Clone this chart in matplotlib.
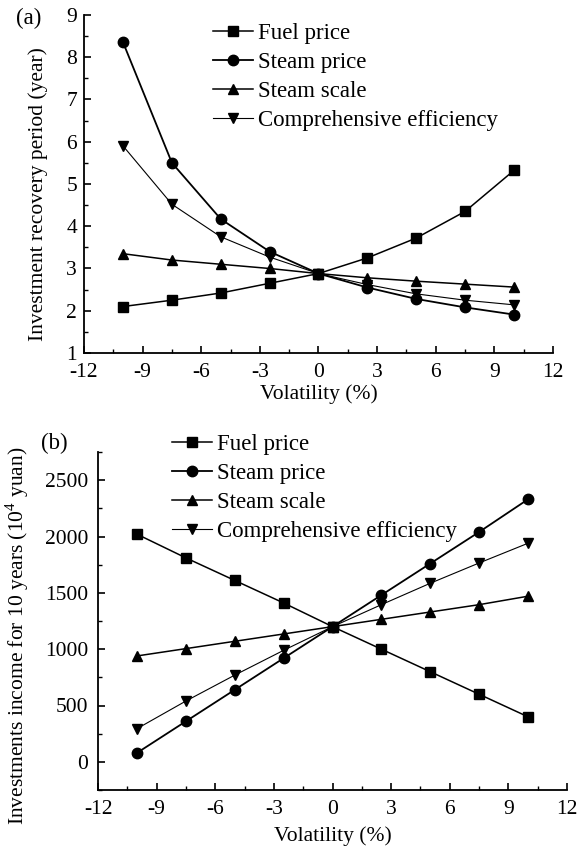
import matplotlib
matplotlib.use("Agg")
import matplotlib.pyplot as plt
from matplotlib.ticker import MultipleLocator

plt.rcParams['font.family'] = ['Liberation Serif', 'DejaVu Serif']
plt.rcParams['mathtext.fontset'] = 'custom'
plt.rcParams['mathtext.rm'] = 'Liberation Serif'

volatility = [-10, -7.5, -5, -2.5, 0, 2.5, 5, 7.5, 10]
series_names = ["Fuel price", "Steam price", "Steam scale", "Comprehensive efficiency"]

# Panel (a): investment recovery period (year)
a_fuel = [2.1, 2.25, 2.42, 2.65, 2.88, 3.25, 3.72, 4.35, 5.32]
a_steam_price = [8.35, 5.5, 4.17, 3.4, 2.88, 2.55, 2.28, 2.08, 1.91]
a_steam_scale = [3.35, 3.2, 3.1, 3.0, 2.88, 2.78, 2.7, 2.63, 2.56]
a_comp = [5.9, 4.52, 3.75, 3.27, 2.88, 2.62, 2.4, 2.25, 2.14]

# Panel (b): investments income for 10 years (10^4 yuan)
b_fuel = [2020, 1810, 1610, 1410, 1200, 1000, 800, 600, 400]
b_steam_price = [80, 360, 640, 920, 1200, 1480, 1760, 2040, 2330]
b_steam_scale = [940, 1005, 1070, 1135, 1200, 1265, 1330, 1395, 1470]
b_comp = [295, 540, 770, 990, 1200, 1395, 1585, 1765, 1940]

x_ticks = [-12, -9, -6, -3, 0, 3, 6, 9, 12]
x_ticklabels = ['-12', '-9', '-6', '-3', '0', '3', '6', '9', '12']
b_yticks = [0, 500, 1000, 1500, 2000, 2500]

markers = ['s', 'o', '^', 'v']
msizes = [6.5, 7.5, 7.5, 7.5]
lws = [1.1, 1.3, 1.1, 0.8]

FS = 15.5

fig = plt.figure(figsize=(5.78, 8.5), dpi=100)
ax1 = fig.add_axes([0.1453, 0.5847, 0.8114, 0.3977])
ax2 = fig.add_axes([0.1696, 0.0706, 0.8114, 0.3976])

def style(ax, ypad):
    for s in ['top', 'right']:
        ax.spines[s].set_visible(False)
    for s in ['left', 'bottom']:
        ax.spines[s].set_linewidth(1.3)
    ax.tick_params(which='major', direction='in', length=5, width=1.2, labelsize=FS)
    ax.tick_params(axis='x', which='major', pad=7.5)
    ax.tick_params(axis='y', which='major', pad=ypad)
    ax.tick_params(which='minor', direction='in', length=3, width=1.0)
    ax.set_xlim(-12, 12)
    ax.xaxis.set_minor_locator(MultipleLocator(1.5))
    ax.set_xticks(x_ticks)
    ax.set_xticklabels(x_ticklabels)

for ax, data, ypad in [(ax1, [a_fuel, a_steam_price, a_steam_scale, a_comp], 5),
                       (ax2, [b_fuel, b_steam_price, b_steam_scale, b_comp], 7)]:
    for name, vals, m, ms, lw in zip(series_names, data, markers, msizes, lws):
        ax.plot(volatility, vals, color='black', marker=m, markersize=ms, lw=lw, label=name)
    style(ax, ypad)

ax1.set_xlabel("Volatility (%)", fontsize=FS, labelpad=1)
ax2.set_xlabel("Volatility (%)", fontsize=FS, labelpad=5)

ax1.set_ylim(1, 9)
ax1.yaxis.set_major_locator(MultipleLocator(1))
ax1.yaxis.set_minor_locator(MultipleLocator(0.5))
ax1.set_ylabel("Investment recovery period (year)", fontsize=FS)
ax1.yaxis.set_label_coords((48 - 84) / 469, (353 - 194) / 338)

ax2.set_ylim(-250, 2750)
ax2.set_yticks(b_yticks)
ax2.yaxis.set_minor_locator(MultipleLocator(250))
ax2.set_ylabel("Investments income for 10 years (10$^4$ yuan)", fontsize=FS)
ax2.yaxis.set_label_coords((31 - 98) / 469, (790 - 636) / 338)

leg_kw = dict(frameon=False, fontsize=16.5, handlelength=1.75, handletextpad=0.22,
              labelspacing=0.345, borderpad=0, borderaxespad=0, loc='upper left')
ax1.legend(bbox_to_anchor=(213/578, 1 - 23/850), bbox_transform=fig.transFigure, **leg_kw)
ax2.legend(bbox_to_anchor=(172/578, 1 - 434/850), bbox_transform=fig.transFigure, **leg_kw)

fig.text(16/578, 1 - 18/850, "(a)", fontsize=16.5, va='center', ha='left')
fig.text(41/578, 1 - 443/850, "(b)", fontsize=16.5, va='center', ha='left')

fig.savefig("out.png", dpi=100)
